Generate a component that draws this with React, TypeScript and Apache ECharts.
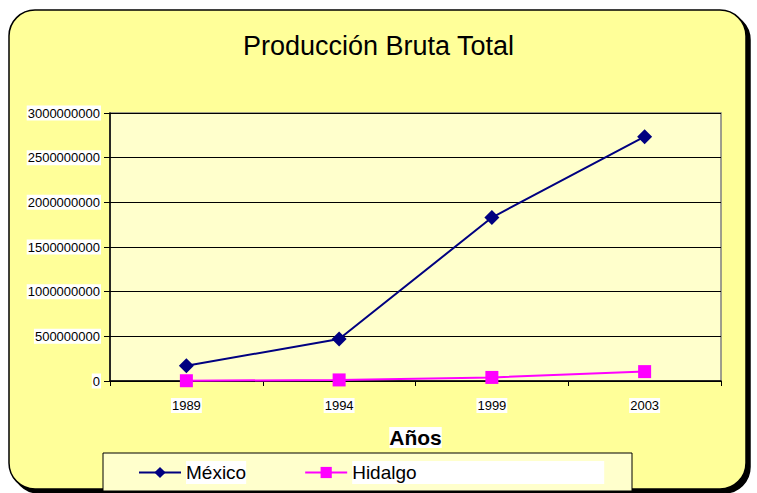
import React, { useEffect, useRef } from "react";
import * as echarts from "echarts";

const years = ["1989", "1994", "1999", "2003"];
const mexico = [170000000, 470000000, 1830000000, 2735000000];
const hidalgo = [3000000, 12000000, 40000000, 105000000];
const yTicks = { min: 0, max: 3000000000, interval: 500000000 };

const FONT = "Liberation Sans, Arial, sans-serif";

export default function App() {
  const ref = useRef<HTMLDivElement>(null);
  useEffect(() => {
    if (!ref.current) return;
    const chart = echarts.init(ref.current, null, { renderer: "svg" });
    chart.setOption({
      animation: false,
      backgroundColor: "#ffffff",
      title: {
        text: "Producción Bruta Total",
        left: "center",
        top: 27,
        textStyle: {
          fontFamily: FONT,
          fontSize: 27,
          fontWeight: "normal",
          color: "#000",
          backgroundColor: "#fff",
          padding: [2, 2, 2, 2],
        },
      },
      graphic: [
        {
          type: "rect",
          z: -10,
          shape: { x: 9, y: 10, width: 737, height: 479, r: 26 },
          style: {
            fill: "#FFFF99",
            stroke: "#000",
            lineWidth: 1.5,
            shadowColor: "#000",
            shadowOffsetX: 4,
            shadowOffsetY: 4,
            shadowBlur: 0,
          },
        },
        {
          type: "rect",
          z: -5,
          shape: { x: 103, y: 453, width: 529, height: 38 },
          style: { fill: "#FFFFCC", stroke: "#000", lineWidth: 1 },
        },
      ],
      legend: {
        left: 133,
        top: 456,
        itemWidth: 42,
        itemHeight: 14,
        itemGap: 58,
        textStyle: {
          fontFamily: FONT,
          fontSize: 19,
          color: "#000",
          backgroundColor: "#fff",
          padding: [2, 0, 2, 0],
        },
        data: [
          { name: "México" },
          { name: "Hidalgo", textStyle: { width: 252 } },
        ],
      },
      grid: {
        left: 110,
        top: 113,
        right: 36,
        bottom: 112,
        show: true,
        backgroundColor: "#FFFFCC",
        borderColor: "#808080",
        borderWidth: 1.5,
      },
      xAxis: {
        type: "category",
        data: years,
        boundaryGap: true,
        name: "Años",
        nameLocation: "middle",
        nameGap: 46,
        nameTextStyle: {
          fontFamily: FONT,
          fontSize: 21,
          fontWeight: "bold",
          color: "#000",
          backgroundColor: "#fff",
        },
        axisLine: { lineStyle: { color: "#000", width: 1.5 } },
        axisTick: { show: true, length: 5, lineStyle: { color: "#000" } },
        axisLabel: {
          fontFamily: FONT,
          fontSize: 13,
          color: "#000",
          margin: 17,
          backgroundColor: "#fff",
          padding: [1, 1, 1, 1],
        },
        splitLine: { show: false },
      },
      yAxis: {
        type: "value",
        min: yTicks.min,
        max: yTicks.max,
        interval: yTicks.interval,
        axisLine: { show: true, lineStyle: { color: "#000", width: 1.5 } },
        axisTick: { show: true, length: 6, lineStyle: { color: "#000" } },
        axisLabel: {
          fontFamily: FONT,
          fontSize: 13,
          color: "#000",
          margin: 9,
          backgroundColor: "#fff",
          padding: [1, 1, 1, 1],
          formatter: (v: number) => String(v),
        },
        splitLine: { show: true, lineStyle: { color: "#000", width: 1 } },
      },
      series: [
        {
          name: "México",
          type: "line",
          data: mexico,
          symbol: "diamond",
          symbolSize: 15,
          lineStyle: { color: "#000080", width: 2 },
          itemStyle: { color: "#000080" },
        },
        {
          name: "Hidalgo",
          type: "line",
          data: hidalgo,
          symbol: "rect",
          symbolSize: 13,
          lineStyle: { color: "#FF00FF", width: 2 },
          itemStyle: { color: "#FF00FF" },
        },
      ],
    });
    return () => chart.dispose();
  }, []);
  return (
    <div
      ref={ref}
      style={{ position: "absolute", left: 0, top: 0, width: 757, height: 493 }}
    />
  );
}
